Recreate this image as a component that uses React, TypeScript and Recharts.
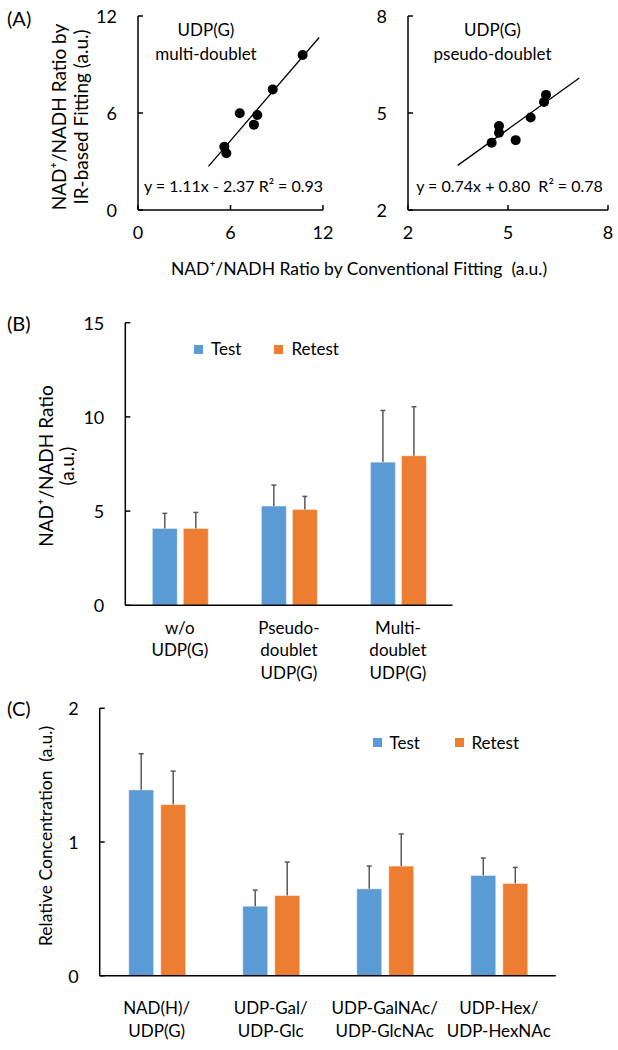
import React from 'react';
import { ScatterChart, Scatter, XAxis, YAxis, BarChart, Bar, Legend } from 'recharts';

const FONT = "Lato, 'Open Sans', 'DejaVu Sans', sans-serif";

// ---------- Panel A data ----------
const multiPoints = [
  { x: 10.68, y: 9.59 },
  { x: 8.74, y: 7.46 },
  { x: 6.6, y: 5.98 },
  { x: 7.74, y: 5.88 },
  { x: 7.52, y: 5.28 },
  { x: 5.6, y: 3.91 },
  { x: 5.73, y: 3.51 },
];
const multiTrend = [
  { x: 4.57, y: 2.7 },
  { x: 11.75, y: 10.67 },
];
const multiTicks = [0, 6, 12];

const pseudoPoints = [
  { x: 6.14, y: 5.56 },
  { x: 6.08, y: 5.34 },
  { x: 5.68, y: 4.86 },
  { x: 4.73, y: 4.6 },
  { x: 4.73, y: 4.39 },
  { x: 4.51, y: 4.08 },
  { x: 5.23, y: 4.16 },
];
const pseudoTrend = [
  { x: 3.49, y: 3.38 },
  { x: 7.14, y: 6.08 },
];
const pseudoTicks = [2, 5, 8];

// ---------- Panel B data ----------
const catsB = ['w/o\nUDP(G)', 'Pseudo-\ndoublet\nUDP(G)', 'Multi-\ndoublet\nUDP(G)'];
const testB = [4.08, 5.27, 7.6];
const testErrB = [0.8, 1.11, 2.74];
const retestB = [4.08, 5.09, 7.94];
const retestErrB = [0.85, 0.69, 2.6];
const ticksB = [0, 5, 10, 15];

// ---------- Panel C data ----------
const catsC = ['NAD(H)/\nUDP(G)', 'UDP-Gal/\nUDP-Glc', 'UDP-GalNAc/\nUDP-GlcNAc', 'UDP-Hex/\nUDP-HexNAc'];
const testC = [1.39, 0.52, 0.65, 0.75];
const testErrC = [0.27, 0.12, 0.17, 0.13];
const retestC = [1.28, 0.6, 0.82, 0.69];
const retestErrC = [0.25, 0.25, 0.24, 0.12];
const ticksC = [0, 1, 2];

const seriesNames = ['Test', 'Retest'];
const colors = ['#5B9BD5', '#ED7D31'];

const dataB = catsB.map((c, i) => ({
  cat: c,
  test: testB[i],
  retest: retestB[i],
  testErr: testErrB[i],
  retestErr: retestErrB[i],
}));
const dataC = catsC.map((c, i) => ({
  cat: c,
  test: testC[i],
  retest: retestC[i],
  testErr: testErrC[i],
  retestErr: retestErrC[i],
}));

// ---------- custom ticks ----------
const makeYTick = (fs: number, gap: number) => (props: any) => {
  const { x, y, payload } = props;
  return (
    <g>
      <line x1={x} x2={x + 5} y1={y} y2={y} stroke="#000" strokeWidth={1.5} />
      <text x={x - gap} y={y} textAnchor="end" dominantBaseline="central" fontSize={fs} fill="#000" fontFamily={FONT}>
        {payload.value}
      </text>
    </g>
  );
};

const makeXNumTick = (fs: number, dy: number) => (props: any) => {
  const { x, y, payload } = props;
  return (
    <g>
      <line x1={x} x2={x} y1={y} y2={y - 5} stroke="#000" strokeWidth={1.5} />
      <text x={x} y={y + dy} textAnchor="middle" dominantBaseline="central" fontSize={fs} fill="#000" fontFamily={FONT}>
        {payload.value}
      </text>
    </g>
  );
};

const makeCatTick = (fs: number, dy: number, lh: number) => (props: any) => {
  const { x, y, payload } = props;
  const lines = String(payload.value).split('\n');
  return (
    <text x={x} y={y + dy} textAnchor="middle" dominantBaseline="central" fontSize={fs} fill="#000" fontFamily={FONT}>
      {lines.map((l, i) => (
        <tspan key={i} x={x} dy={i === 0 ? 0 : lh}>
          {l}
        </tspan>
      ))}
    </text>
  );
};

const makeLegend = (offsets: number[], fs: number) => () => (
  <div style={{ position: 'relative', height: 20 }}>
    {seriesNames.map((name, i) => (
      <div
        key={name}
        style={{ position: 'absolute', left: offsets[i], top: 0, height: 20, display: 'flex', alignItems: 'center', whiteSpace: 'nowrap' }}
      >
        <span style={{ display: 'inline-block', width: 9, height: 9, background: colors[i], marginRight: 8 }} />
        <span style={{ fontSize: fs, fontFamily: FONT, color: '#000', lineHeight: '20px' }}>{name}</span>
      </div>
    ))}
  </div>
);

// Bar with an upward-only error bar, scaled from the bar's own pixel height
const makeBarShape = (valueKey: string, errKey: string) => (props: any) => {
  const { x, y, width, height, fill, payload } = props;
  const v = payload[valueKey];
  const e = payload[errKey];
  const k = v ? height / v : 0;
  const top = y - e * k;
  const cx = x + width / 2;
  return (
    <g>
      <rect x={x} y={y} width={width} height={height} fill={fill} stroke="#ffffff" strokeOpacity={0.5} strokeWidth={1} />
      <line x1={cx} x2={cx} y1={y} y2={top} stroke="#595959" strokeWidth={1.5} />
      <line x1={cx - 2.5} x2={cx + 2.5} y1={top} y2={top} stroke="#595959" strokeWidth={1.5} />
    </g>
  );
};

const dotShape = (props: any) => <circle cx={props.cx} cy={props.cy} r={5} fill="#000" />;
const noShape = () => <g />;

const axisLine = { stroke: '#000', strokeWidth: 1.5 };

const ScatterPanel = (p: {
  points: { x: number; y: number }[];
  trend: { x: number; y: number }[];
  ticks: number[];
  width: number;
  margin: any;
}) => (
  <ScatterChart width={p.width} height={250} margin={p.margin}>
    <XAxis
      type="number"
      dataKey="x"
      domain={[p.ticks[0], p.ticks[p.ticks.length - 1]]}
      ticks={p.ticks}
      interval={0}
      height={30}
      tickSize={0}
      tickMargin={0}
      tickLine={false}
      axisLine={axisLine}
      tick={makeXNumTick(18, 22)}
      allowDataOverflow
    />
    <YAxis
      type="number"
      dataKey="y"
      domain={[p.ticks[0], p.ticks[p.ticks.length - 1]]}
      ticks={p.ticks}
      interval={0}
      width={30}
      tickSize={0}
      tickMargin={0}
      tickLine={false}
      axisLine={axisLine}
      tick={makeYTick(18, 21)}
      allowDataOverflow
    />
    <Scatter data={p.trend} line={{ stroke: '#000', strokeWidth: 1.3 }} shape={noShape} isAnimationActive={false} legendType="none" />
    <Scatter data={p.points} shape={dotShape} isAnimationActive={false} legendType="none" />
  </ScatterChart>
);

const BarPanel = (p: {
  data: any[];
  ticks: number[];
  width: number;
  height: number;
  margin: any;
  xHeight: number;
  barGap: number;
  catTick: any;
  legendStyle: any;
  legendOffsets: number[];
}) => (
  <BarChart width={p.width} height={p.height} data={p.data} margin={p.margin} barSize={25} barGap={p.barGap}>
    <XAxis dataKey="cat" height={p.xHeight} tickSize={0} tickMargin={0} tickLine={false} axisLine={axisLine} interval={0} tick={p.catTick} />
    <YAxis
      type="number"
      domain={[p.ticks[0], p.ticks[p.ticks.length - 1]]}
      ticks={p.ticks}
      interval={0}
      width={60}
      tickSize={0}
      tickMargin={0}
      tickLine={false}
      axisLine={axisLine}
      tick={makeYTick(18, 21)}
    />
    <Legend layout="vertical" align="center" verticalAlign="middle" wrapperStyle={p.legendStyle} content={makeLegend(p.legendOffsets, 17)} />
    <Bar dataKey="test" name={seriesNames[0]} fill={colors[0]} shape={makeBarShape('test', 'testErr')} isAnimationActive={false} />
    <Bar dataKey="retest" name={seriesNames[1]} fill={colors[1]} shape={makeBarShape('retest', 'retestErr')} isAnimationActive={false} />
  </BarChart>
);

export default function App() {
  const t = { fontFamily: FONT, fill: '#000' } as any;
  return (
    <div style={{ position: 'absolute', left: 0, top: 0, width: 618, height: 1050, background: '#fff', fontFamily: FONT }}>
      <div style={{ position: 'absolute', left: 0, top: 0 }}>
        <ScatterPanel points={multiPoints} trend={multiTrend} ticks={multiTicks} width={345} margin={{ top: 16, right: 22, bottom: 10, left: 108 }} />
      </div>
      <div style={{ position: 'absolute', left: 330, top: 0 }}>
        <ScatterPanel points={pseudoPoints} trend={pseudoTrend} ticks={pseudoTicks} width={288} margin={{ top: 16, right: 10, bottom: 10, left: 48 }} />
      </div>
      <div style={{ position: 'absolute', left: 0, top: 300 }}>
        <BarPanel
          data={dataB}
          ticks={ticksB}
          width={470}
          height={385}
          margin={{ top: 22.7, right: 17.5, bottom: 4.7, left: 65.3 }}
          xHeight={75}
          barGap={6}
          catTick={makeCatTick(17, 21.5, 22.5)}
          legendStyle={{ left: 194, top: 39.3, width: 220, height: 20 }}
          legendOffsets={[0, 80.4]}
        />
      </div>
      <div style={{ position: 'absolute', left: 0, top: 690 }}>
        <BarPanel
          data={dataC}
          ticks={ticksC}
          width={575}
          height={360}
          margin={{ top: 18.3, right: 19.2, bottom: 14.3, left: 39.7 }}
          xHeight={60}
          barGap={7}
          catTick={makeCatTick(17, 31, 23.3)}
          legendStyle={{ left: 372.5, top: 42.7, width: 200, height: 20 }}
          legendOffsets={[0, 82]}
        />
      </div>
      <svg width={618} height={1050} style={{ position: 'absolute', left: 0, top: 0, pointerEvents: 'none' }}>
        <g {...t} fontSize={20} dominantBaseline="central">
          <text x={7} y={18}>(A)</text>
          <text x={7} y={323}>(B)</text>
          <text x={7} y={708}>(C)</text>
        </g>
        <g {...t} fontSize={17} textAnchor="middle" dominantBaseline="central">
          <text x={206} y={29}>UDP(G)</text>
          <text x={206} y={53}>multi-doublet</text>
          <text x={233.5} y={185} fontSize={16}>y = 1.11x - 2.37 R² = 0.93</text>
          <text x={492.5} y={29}>UDP(G)</text>
          <text x={492.5} y={53}>pseudo-doublet</text>
          <text x={509.5} y={185} fontSize={16} style={{ whiteSpace: 'pre' }}>y = 0.74x + 0.80  R² = 0.78</text>
          <text x={359} y={268} fontSize={17.5} style={{ whiteSpace: 'pre' }}>NAD⁺/NADH Ratio by Conventional Fitting  (a.u.)</text>
          <text x={58} y={117} fontSize={19} transform="rotate(-90 58 117)">NAD⁺/NADH Ratio by</text>
          <text x={80} y={117} fontSize={19} transform="rotate(-90 80 117)">IR-based Fitting (a.u.)</text>
          <text x={45} y={466} fontSize={19} transform="rotate(-90 45 466)">NAD⁺/NADH Ratio</text>
          <text x={66} y={466} fontSize={19} transform="rotate(-90 66 466)">(a.u.)</text>
          <text x={45} y={836} fontSize={17.5} transform="rotate(-90 45 836)" style={{ whiteSpace: 'pre' }}>Relative Concentration  (a.u.)</text>
        </g>
      </svg>
    </div>
  );
}
